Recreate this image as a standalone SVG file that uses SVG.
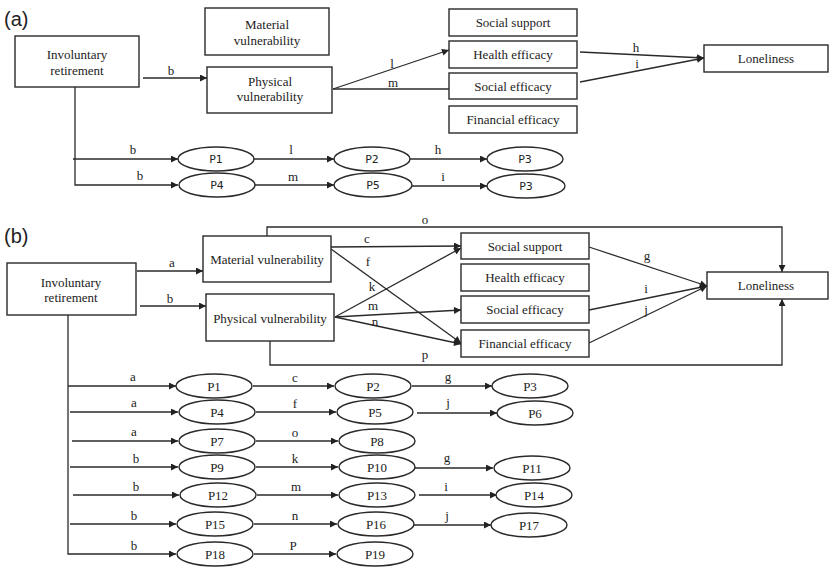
<svg xmlns="http://www.w3.org/2000/svg" width="830" height="567" viewBox="0 0 830 567">
<style>
.box{fill:#fff;stroke:#2a2a2a;stroke-width:1.4}
.ell{fill:#fff;stroke:#2a2a2a;stroke-width:1.4}
.t{font-family:'Liberation Serif','DejaVu Serif',serif;font-size:13px;fill:#222;text-anchor:middle}
.ts{font-family:'DejaVu Sans',sans-serif;font-size:11px;fill:#222;text-anchor:middle}
.lab{font-family:'Liberation Serif','DejaVu Serif',serif;font-size:13px;fill:#222;text-anchor:middle}
.pan{font-family:'Liberation Sans',Arial,sans-serif;font-size:20px;fill:#222}
.e{fill:none;stroke:#2a2a2a;stroke-width:1.3}
</style>
<defs>
<marker id="ah" viewBox="0 0 10 10" refX="10" refY="5" markerWidth="8" markerHeight="7" orient="auto" markerUnits="userSpaceOnUse">
<path d="M0,0 L10,5 L0,10 z" fill="#222"/>
</marker>
</defs>
<rect width="830" height="567" fill="#fff"/>

<text class="pan" x="4" y="26">(a)</text>
<text class="pan" x="4" y="243">(b)</text>

<!-- Panel (a) connectors -->
<g id="connectors-a">
<path class="e" d="M143,78 H207" marker-end="url(#ah)"/>
<path class="e" d="M333,89 L449,50" marker-end="url(#ah)"/>
<path class="e" d="M333,89 H449"/>
<path class="e" d="M580,52 L704,58" marker-end="url(#ah)"/>
<path class="e" d="M580,82 L704,58" marker-end="url(#ah)"/>
<path class="e" d="M75,87 V185 H178" marker-end="url(#ah)"/>
<path class="e" d="M73,159 H178" marker-end="url(#ah)"/>
<path class="e" d="M254,159 H334" marker-end="url(#ah)"/>
<path class="e" d="M410,159 H487" marker-end="url(#ah)"/>
<path class="e" d="M255,185 H334" marker-end="url(#ah)"/>
<path class="e" d="M412,186 H487" marker-end="url(#ah)"/>
<text class="lab" x="171" y="75">b</text>
<text class="lab" x="392" y="68">l</text>
<text class="lab" x="393" y="87">m</text>
<text class="lab" x="636" y="52">h</text>
<text class="lab" x="637" y="68">i</text>
<text class="lab" x="133" y="154">b</text>
<text class="lab" x="291" y="154">l</text>
<text class="lab" x="438" y="154">h</text>
<text class="lab" x="140" y="180">b</text>
<text class="lab" x="293" y="181">m</text>
<text class="lab" x="443" y="181">i</text>
</g>

<!-- Panel (a) nodes -->
<g id="a-invol"><rect class="box" x="15" y="36" width="124" height="51"/><text class="t" x="77" y="59">Involuntary</text><text class="t" x="77" y="75">retirement</text></g>
<g id="a-material"><rect class="box" x="205" y="8" width="124" height="47"/><text class="t" x="267" y="29">Material</text><text class="t" x="267" y="45">vulnerability</text></g>
<g id="a-physical"><rect class="box" x="207" y="67" width="125" height="46"/><text class="t" x="270" y="86">Physical</text><text class="t" x="270" y="101">vulnerability</text></g>
<g id="a-socsup"><rect class="box" x="449" y="9" width="128" height="27"/><text class="t" x="513" y="27">Social support</text></g>
<g id="a-health"><rect class="box" x="449" y="41" width="128" height="27"/><text class="t" x="513" y="59">Health efficacy</text></g>
<g id="a-socef"><rect class="box" x="449" y="73" width="128" height="26"/><text class="t" x="513" y="91">Social efficacy</text></g>
<g id="a-fin"><rect class="box" x="449" y="106" width="128" height="27"/><text class="t" x="513" y="124">Financial efficacy</text></g>
<g id="a-lonely"><rect class="box" x="704" y="45" width="124" height="27"/><text class="t" x="766" y="63">Loneliness</text></g>
<g id="a-P1"><ellipse class="ell" cx="216" cy="159" rx="38" ry="12"/><text class="ts" x="216" y="163">P1</text></g>
<g id="a-P2"><ellipse class="ell" cx="372" cy="159" rx="38" ry="12"/><text class="ts" x="372" y="163">P2</text></g>
<g id="a-P3"><ellipse class="ell" cx="525" cy="159" rx="38" ry="12"/><text class="ts" x="525" y="163">P3</text></g>
<g id="a-P4"><ellipse class="ell" cx="217" cy="185" rx="38" ry="12"/><text class="ts" x="217" y="189">P4</text></g>
<g id="a-P5"><ellipse class="ell" cx="373" cy="185" rx="39" ry="12"/><text class="ts" x="373" y="189">P5</text></g>
<g id="a-P3b"><ellipse class="ell" cx="526" cy="186" rx="39" ry="12"/><text class="ts" x="526" y="190">P3</text></g>

<!-- Panel (b) connectors -->
<g id="connectors-b">
<path class="e" d="M137,271 H203" marker-end="url(#ah)"/>
<path class="e" d="M140,306 H206" marker-end="url(#ah)"/>
<path class="e" d="M267,236 V227 H782 V272" marker-end="url(#ah)"/>
<path class="e" d="M270,341 V365 H782 V299" marker-end="url(#ah)"/>
<path class="e" d="M331,247 L461,246" marker-end="url(#ah)"/>
<path class="e" d="M331,249 L461,343" marker-end="url(#ah)"/>
<path class="e" d="M335,317 L461,248" marker-end="url(#ah)"/>
<path class="e" d="M335,317 L461,310" marker-end="url(#ah)"/>
<path class="e" d="M335,317 L461,344" marker-end="url(#ah)"/>
<path class="e" d="M589,247 L707,286" marker-end="url(#ah)"/>
<path class="e" d="M589,310 L707,286" marker-end="url(#ah)"/>
<path class="e" d="M589,343 L707,286" marker-end="url(#ah)"/>
<text class="lab" x="172" y="267">a</text>
<text class="lab" x="170" y="303">b</text>
<text class="lab" x="367" y="243">c</text>
<text class="lab" x="368" y="266">f</text>
<text class="lab" x="372" y="291">k</text>
<text class="lab" x="373" y="310">m</text>
<text class="lab" x="375" y="326">n</text>
<text class="lab" x="425" y="224">o</text>
<text class="lab" x="425" y="359">p</text>
<text class="lab" x="647" y="260">g</text>
<text class="lab" x="646" y="293">i</text>
<text class="lab" x="646" y="314">j</text>

<path class="e" d="M68,315 V554 H176" marker-end="url(#ah)"/>
<path class="e" d="M68,386 H176" marker-end="url(#ah)"/>
<path class="e" d="M70,412 H178" marker-end="url(#ah)"/>
<path class="e" d="M72,441 H178" marker-end="url(#ah)"/>
<path class="e" d="M70,467 H178" marker-end="url(#ah)"/>
<path class="e" d="M73,495 H179" marker-end="url(#ah)"/>
<path class="e" d="M70,524 H176" marker-end="url(#ah)"/>
<path class="e" d="M253,386 H334" marker-end="url(#ah)"/>
<path class="e" d="M256,412 H336" marker-end="url(#ah)"/>
<path class="e" d="M256,441 H338" marker-end="url(#ah)"/>
<path class="e" d="M256,467 H338" marker-end="url(#ah)"/>
<path class="e" d="M257,495 H338" marker-end="url(#ah)"/>
<path class="e" d="M254,524 H337" marker-end="url(#ah)"/>
<path class="e" d="M254,554 H336" marker-end="url(#ah)"/>
<path class="e" d="M412,386 H492" marker-end="url(#ah)"/>
<path class="e" d="M417,413 H497" marker-end="url(#ah)"/>
<path class="e" d="M415,468 H493" marker-end="url(#ah)"/>
<path class="e" d="M419,495 H497" marker-end="url(#ah)"/>
<path class="e" d="M414,525 H491" marker-end="url(#ah)"/>
<text class="lab" x="133" y="381">a</text>
<text class="lab" x="134" y="407">a</text>
<text class="lab" x="134" y="436">a</text>
<text class="lab" x="136" y="463">b</text>
<text class="lab" x="136" y="491">b</text>
<text class="lab" x="134" y="520">b</text>
<text class="lab" x="134" y="550">b</text>
<text class="lab" x="295" y="382">c</text>
<text class="lab" x="295" y="408">f</text>
<text class="lab" x="295" y="437">o</text>
<text class="lab" x="295" y="463">k</text>
<text class="lab" x="296" y="491">m</text>
<text class="lab" x="295" y="520">n</text>
<text class="lab" x="293" y="550">P</text>
<text class="lab" x="448" y="381">g</text>
<text class="lab" x="448" y="407">j</text>
<text class="lab" x="447" y="462">g</text>
<text class="lab" x="446" y="491">i</text>
<text class="lab" x="447" y="520">j</text>
</g>

<!-- Panel (b) nodes -->
<g id="b-invol"><rect class="box" x="7" y="263" width="129" height="52"/><text class="t" x="71" y="287">Involuntary</text><text class="t" x="71" y="302">retirement</text></g>
<g id="b-material"><rect class="box" x="203" y="236" width="128" height="46"/><text class="t" x="267" y="264">Material vulnerability</text></g>
<g id="b-physical"><rect class="box" x="206" y="294" width="128" height="47"/><text class="t" x="270" y="323">Physical vulnerability</text></g>
<g id="b-socsup"><rect class="box" x="461" y="233" width="128" height="26"/><text class="t" x="525" y="251">Social support</text></g>
<g id="b-health"><rect class="box" x="461" y="264" width="128" height="27"/><text class="t" x="525" y="282">Health efficacy</text></g>
<g id="b-socef"><rect class="box" x="461" y="296" width="128" height="27"/><text class="t" x="525" y="314">Social efficacy</text></g>
<g id="b-fin"><rect class="box" x="461" y="330" width="128" height="27"/><text class="t" x="525" y="348">Financial efficacy</text></g>
<g id="b-lonely"><rect class="box" x="707" y="272" width="121" height="27"/><text class="t" x="766" y="290">Loneliness</text></g>

<g id="b-P1"><ellipse class="ell" cx="214" cy="386" rx="38" ry="12"/><text class="t" x="214" y="391">P1</text></g>
<g id="b-P4"><ellipse class="ell" cx="217" cy="412" rx="38" ry="12"/><text class="t" x="217" y="417">P4</text></g>
<g id="b-P7"><ellipse class="ell" cx="217" cy="441" rx="38" ry="12"/><text class="t" x="217" y="446">P7</text></g>
<g id="b-P9"><ellipse class="ell" cx="217" cy="467" rx="38" ry="12"/><text class="t" x="217" y="472">P9</text></g>
<g id="b-P12"><ellipse class="ell" cx="218" cy="495" rx="38" ry="12"/><text class="t" x="218" y="500">P12</text></g>
<g id="b-P15"><ellipse class="ell" cx="215" cy="524" rx="38" ry="12"/><text class="t" x="215" y="529">P15</text></g>
<g id="b-P18"><ellipse class="ell" cx="215" cy="554" rx="38" ry="12"/><text class="t" x="215" y="559">P18</text></g>
<g id="b-P2"><ellipse class="ell" cx="373" cy="386" rx="38" ry="12"/><text class="t" x="373" y="391">P2</text></g>
<g id="b-P5"><ellipse class="ell" cx="375" cy="412" rx="38" ry="12"/><text class="t" x="375" y="417">P5</text></g>
<g id="b-P8"><ellipse class="ell" cx="377" cy="441" rx="38" ry="12"/><text class="t" x="377" y="446">P8</text></g>
<g id="b-P10"><ellipse class="ell" cx="377" cy="467" rx="38" ry="12"/><text class="t" x="377" y="472">P10</text></g>
<g id="b-P13"><ellipse class="ell" cx="377" cy="495" rx="38" ry="12"/><text class="t" x="377" y="500">P13</text></g>
<g id="b-P16"><ellipse class="ell" cx="376" cy="524" rx="38" ry="12"/><text class="t" x="376" y="529">P16</text></g>
<g id="b-P19"><ellipse class="ell" cx="375" cy="554" rx="38" ry="12"/><text class="t" x="375" y="559">P19</text></g>
<g id="b-P3"><ellipse class="ell" cx="530" cy="386" rx="38" ry="12"/><text class="t" x="530" y="391">P3</text></g>
<g id="b-P6"><ellipse class="ell" cx="535" cy="413" rx="38" ry="12"/><text class="t" x="535" y="418">P6</text></g>
<g id="b-P11"><ellipse class="ell" cx="532" cy="468" rx="38" ry="12"/><text class="t" x="532" y="473">P11</text></g>
<g id="b-P14"><ellipse class="ell" cx="534" cy="495" rx="38" ry="12"/><text class="t" x="534" y="500">P14</text></g>
<g id="b-P17"><ellipse class="ell" cx="529" cy="525" rx="38" ry="12"/><text class="t" x="529" y="530">P17</text></g>
</svg>
